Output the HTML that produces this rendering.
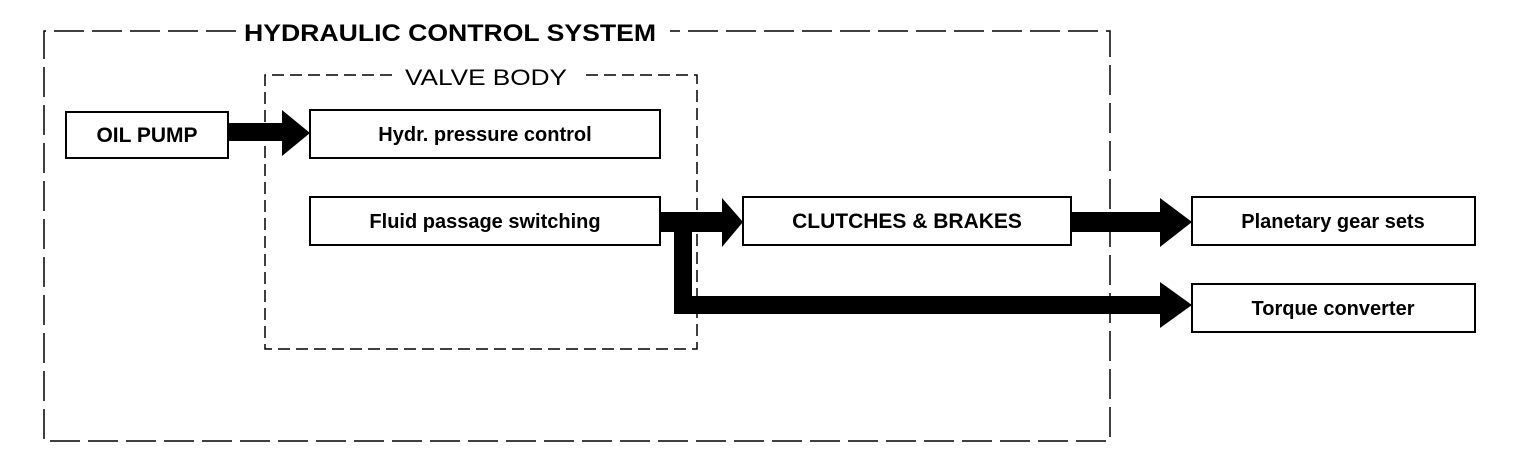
<!DOCTYPE html>
<html><head><meta charset="utf-8"><style>
html,body{margin:0;padding:0;background:#fff;}
svg{display:block}
text{font-family:"Liberation Sans",sans-serif;fill:#000}
</style></head><body>
<svg width="1536" height="468" viewBox="0 0 1536 468" xmlns="http://www.w3.org/2000/svg">
<rect width="1536" height="468" fill="#fff"/>
<g fill="none" stroke="#000" stroke-width="1.5">
<path d="M236 31 H44 V441 H1110 V31 H670" stroke-dasharray="30 8"/>
<path d="M392 75 H265 V349 H697 V75 H580" stroke-dasharray="12 6"/>
</g>
<text x="450" y="41" font-size="24" font-weight="bold" text-anchor="middle" textLength="412" lengthAdjust="spacingAndGlyphs">HYDRAULIC CONTROL SYSTEM</text>
<text x="486" y="85" font-size="22" text-anchor="middle" textLength="162" lengthAdjust="spacingAndGlyphs">VALVE BODY</text>
<g fill="#fff" stroke="#000" stroke-width="2">
<rect x="66" y="112" width="162" height="46"/>
<rect x="310" y="110" width="350" height="48"/>
<rect x="310" y="197" width="350" height="48"/>
<rect x="743" y="197" width="328" height="48"/>
<rect x="1192" y="197" width="283" height="48"/>
<rect x="1192" y="284" width="283" height="48"/>
</g>
<g font-size="20" text-anchor="middle" font-weight="600">
<text x="147" y="142" font-size="21">OIL PUMP</text>
<text x="485" y="141">Hydr. pressure control</text>
<text x="485" y="228">Fluid passage switching</text>
<text x="907" y="228" font-size="21">CLUTCHES &amp; BRAKES</text>
<text x="1333" y="228">Planetary gear sets</text>
<text x="1333" y="315">Torque converter</text>
</g>
<g fill="#000">
<rect x="228" y="123" width="56" height="18"/>
<polygon points="282,110 310,133 282,156"/>
<rect x="660" y="212" width="64" height="20"/>
<polygon points="722,198 743,222 722,247"/>
<rect x="674" y="212" width="18" height="102"/>
<rect x="674" y="296" width="488" height="18"/>
<polygon points="1160,282 1192,305 1160,328"/>
<rect x="1071" y="212" width="91" height="20"/>
<polygon points="1160,198 1192,222 1160,247"/>
</g>
</svg>
</body></html>
